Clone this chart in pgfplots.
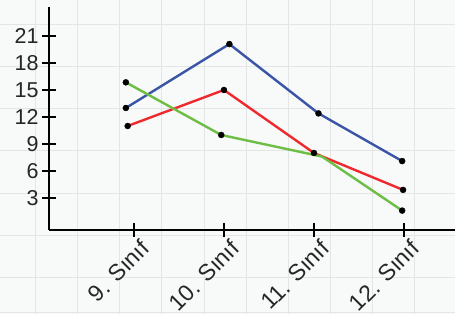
\documentclass[border=0pt]{standalone}
\usepackage{pgfplots}
\pgfplotsset{compat=1.18}
\usepackage{fontspec}
\setmainfont{Liberation Sans}
\definecolor{bgc}{HTML}{F8F9F9}
\definecolor{gridc}{HTML}{E4E6E6}
\definecolor{cblue}{HTML}{3B55A6}
\definecolor{cred}{HTML}{EE2A2E}
\definecolor{cgreen}{HTML}{6DBE45}
\begin{document}
\begin{tikzpicture}
% background paper grid
\begin{axis}[at={(0,0)}, anchor=south west, scale only axis,
  width=455bp, height=314bp,
  xmin=0, xmax=455, ymin=0, ymax=314,
  axis line style={draw=none},
  axis background/.style={fill=bgc},
  xtick={35.5,77.5,119.7,161.8,204,246,288.2,330.4,372.6,414.8},
  ytick={1.5,36,78.5,120.7,163,205.3,247.5,289.7},
  xticklabels={}, yticklabels={},
  major tick length=0pt,
  grid=major, grid style={gridc, line width=1bp}]
\end{axis}
% main chart
\begin{axis}[at={(49bp,84bp)}, anchor=south west, scale only axis,
  width=406bp, height=223bp,
  xmin=-0.944, xmax=3.567, ymin=-0.556, ymax=24.22,
  axis x line=bottom, axis y line=left,
  axis line style={black, line width=2.2bp, -},
  xtick={0,1,2,3},
  xticklabels={9. Sınıf,10. Sınıf,11. Sınıf,12. Sınıf},
  ytick={3,6,9,12,15,18,21},
  major tick length=14bp, tick align=center,
  tick style={black, line width=2bp},
  /pgf/number format/assume math mode=true,
  tick label style={font=\fontsize{21.5bp}{24bp}\selectfont, text=black!85},
  xticklabel style={font=\fontsize{23bp}{26bp}\selectfont, rotate=45, anchor=north east, inner sep=0bp, xshift=3bp, yshift=-4.5bp},
  clip=false]
\addplot[cblue, line width=2.4bp] coordinates {(-0.09,13.0) (1.06,20.1) (2.05,12.4) (2.98,7.1)};
\addplot[cred, line width=2.4bp] coordinates {(-0.07,11.0) (1.0,15.0) (2.0,8.0) (2.99,3.9)};
\addplot[cgreen, line width=2.4bp] coordinates {(-0.09,15.85) (0.97,10.0) (2.09,7.6) (2.98,1.6)};
\addplot[only marks, mark=*, mark size=3bp, black] coordinates {(-0.09,13.0) (1.06,20.1) (2.05,12.4) (2.98,7.1)};
\addplot[only marks, mark=*, mark size=3bp, black] coordinates {(-0.07,11.0) (1.0,15.0) (2.0,8.0) (2.99,3.9)};
\addplot[only marks, mark=*, mark size=3bp, black] coordinates {(-0.09,15.85) (0.97,10.0) (2.98,1.6)};
\end{axis}
\pgfresetboundingbox
\path (0,0) rectangle (455bp,314bp);
\end{tikzpicture}
\end{document}
